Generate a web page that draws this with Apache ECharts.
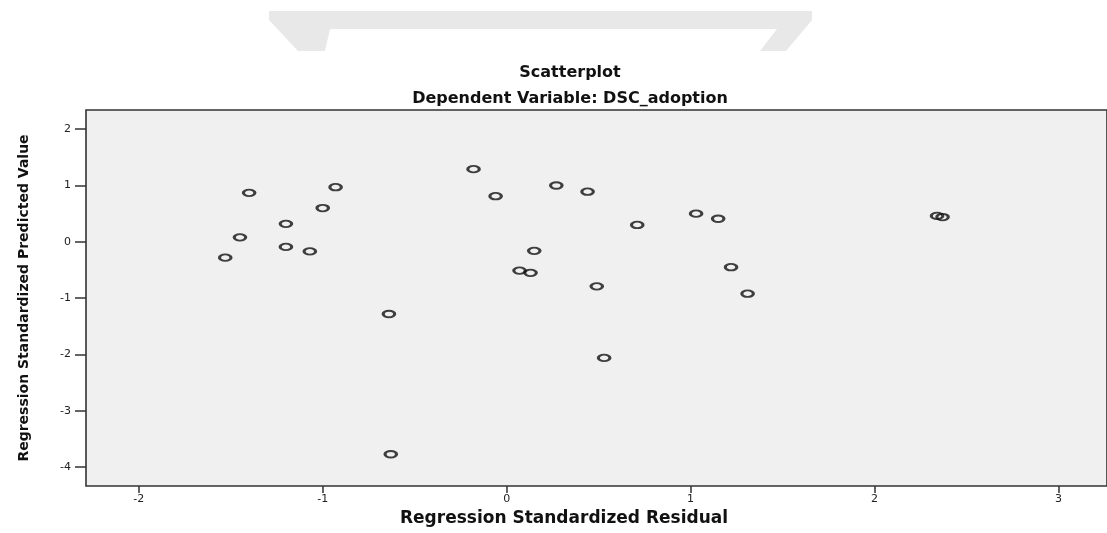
<!DOCTYPE html>
<html>
<head>
<meta charset="utf-8">
<title>Scatterplot</title>
<script src="https://cdn.jsdelivr.net/npm/echarts@6/dist/echarts.min.js"></script>
<style>
    html, body { margin: 0; padding: 0; background: #fff; }
    #chart { width: 1107px; height: 533px; }
</style>
</head>
<body>
<div id="chart"></div>
<script>
// standardized residual (x) and standardized predicted value (y)
const residuals = [-1.53, -1.45, -1.40, -1.20, -1.20, -1.07, -1.00, -0.93, -0.64, -0.63,
    -0.18, -0.06, 0.07, 0.13, 0.15, 0.27, 0.44, 0.49, 0.53, 0.71,
    1.03, 1.15, 1.22, 1.31, 2.34, 2.37];
const predicted = [-0.28, 0.08, 0.87, 0.32, -0.09, -0.17, 0.60, 0.97, -1.28, -3.77,
    1.29, 0.81, -0.51, -0.55, -0.16, 1.00, 0.89, -0.79, -2.06, 0.30,
    0.50, 0.41, -0.45, -0.92, 0.46, 0.44];
const xTicks = [-2, -1, 0, 1, 2, 3];
const yTicks = [-4, -3, -2, -1, 0, 1, 2];

const points = residuals.map((r, i) => [r, predicted[i]]);

const chart = echarts.init(document.getElementById('chart'));

const option = {
    backgroundColor: '#fff',
    animation: false,
    title: [
        {
            text: 'Scatterplot',
            left: 565, top: 60, textAlign: 'center',
            textStyle: { fontFamily: 'DejaVu Sans', fontSize: 16, fontWeight: 'bold', color: '#111' }
        },
        {
            text: 'Dependent Variable: DSC_adoption',
            left: 565, top: 86, textAlign: 'center',
            textStyle: { fontFamily: 'DejaVu Sans', fontSize: 16, fontWeight: 'bold', color: '#111' }
        }
    ],
    graphic: [
        {
            // faint grey bracket left over at the top of the page
            type: 'polygon',
            shape: {
                points: [[269, 11], [812, 11], [812, 20], [786, 51], [760, 51], [777, 29],
                    [330, 29], [325, 51], [298, 51], [269, 20]]
            },
            style: { fill: '#e8e8e8' },
            silent: true
        }
    ],
    grid: {
        left: 86, top: 110, right: -2, bottom: 47,
        show: true,
        backgroundColor: '#f0f0f0',
        borderColor: '#333',
        borderWidth: 1.6
    },
    xAxis: {
        type: 'value',
        min: -2.287,
        max: 3.264,
        name: 'Regression Standardized Residual',
        nameLocation: 'middle',
        nameGap: 24,
        nameTextStyle: {
            fontFamily: 'DejaVu Sans', fontSize: 17, fontWeight: 'bold', color: '#111',
            padding: [0, 65, 0, 0]
        },
        axisLine: { show: false, onZero: false },
        axisTick: {
            show: true, length: 7, customValues: xTicks,
            lineStyle: { color: '#333', width: 1.5 }
        },
        axisLabel: {
            customValues: xTicks, margin: 8,
            fontFamily: 'DejaVu Sans', fontSize: 11, color: '#222'
        },
        splitLine: { show: false }
    },
    yAxis: {
        type: 'value',
        min: -4.333,
        max: 2.340,
        name: 'Regression Standardized Predicted Value',
        nameLocation: 'middle',
        nameRotate: 90,
        nameGap: 55,
        nameTextStyle: {
            fontFamily: 'DejaVu Sans', fontSize: 14, fontWeight: 'bold', color: '#111'
        },
        axisLine: { show: false, onZero: false },
        axisTick: {
            show: true, length: 11, customValues: yTicks,
            lineStyle: { color: '#333', width: 1.5 }
        },
        axisLabel: {
            customValues: yTicks, margin: 15,
            fontFamily: 'DejaVu Sans', fontSize: 11, color: '#222'
        },
        splitLine: { show: false }
    },
    series: [
        {
            type: 'scatter',
            data: points,
            symbol: 'circle',
            symbolSize: [11.5, 6.5],
            itemStyle: {
                color: 'rgba(0,0,0,0)',
                borderColor: '#111',
                borderWidth: 2.4
            },
            emphasis: { disabled: true }
        }
    ]
};

chart.setOption(option);
</script>
</body>
</html>
